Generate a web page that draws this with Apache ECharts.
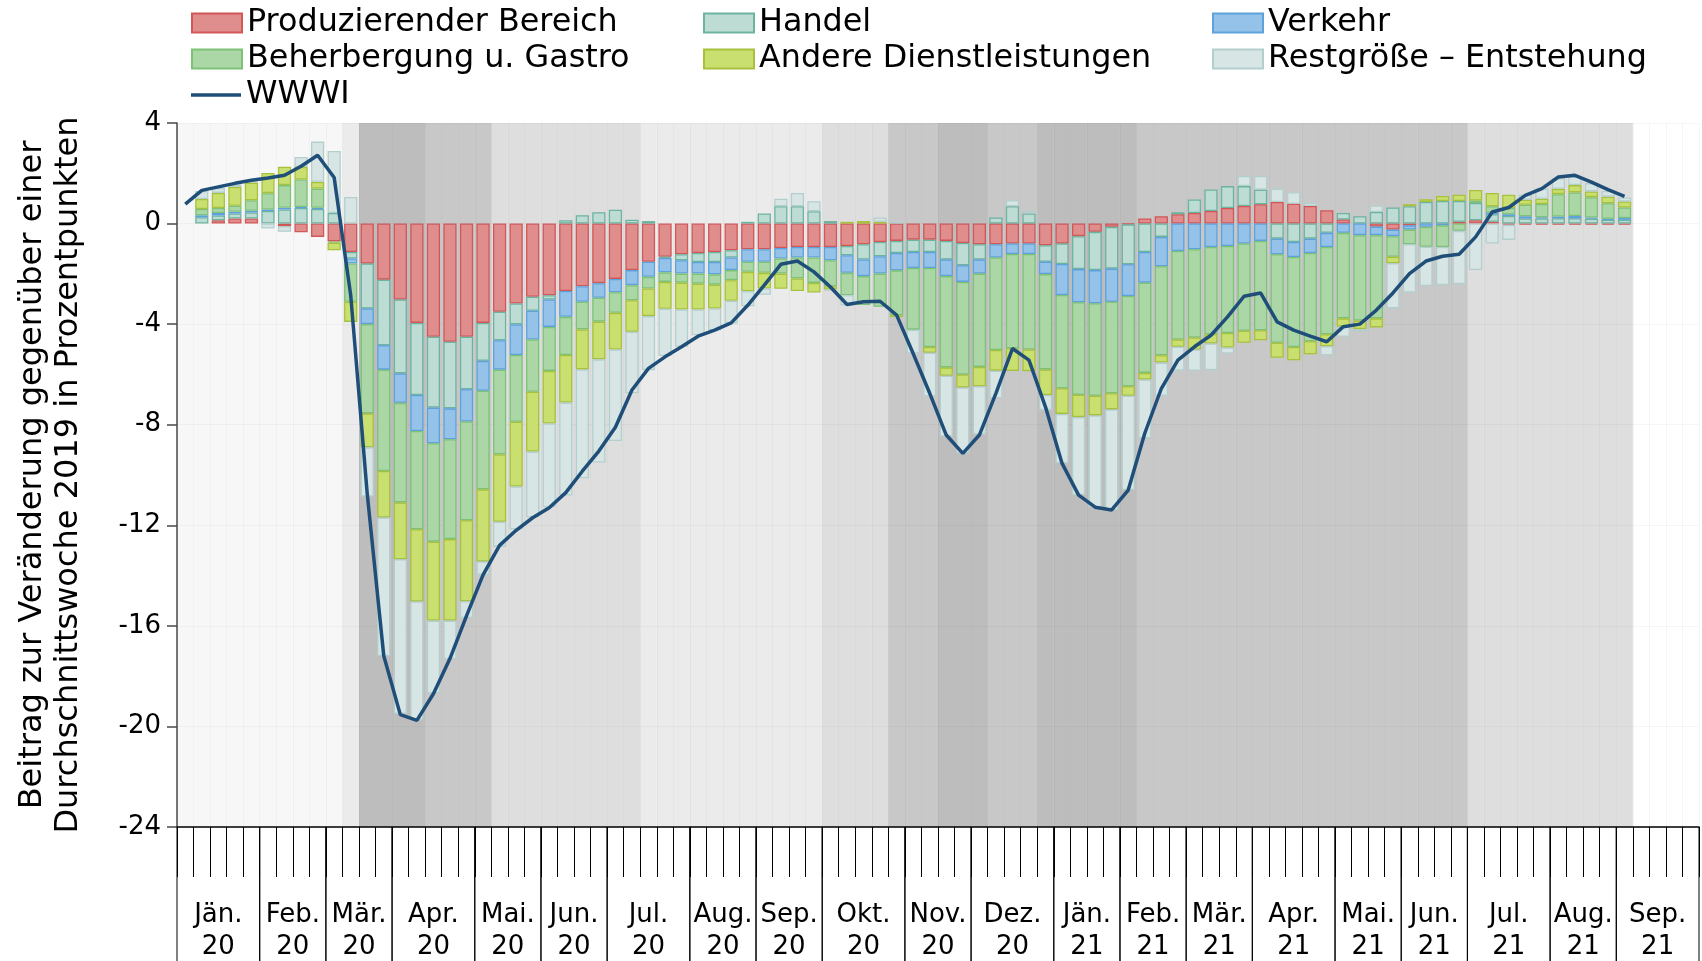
<!DOCTYPE html>
<html><head><meta charset="utf-8">
<script src="https://cdn.jsdelivr.net/npm/echarts@6/dist/echarts.min.js"></script>
<style>html,body{margin:0;padding:0;background:#fff}#c{width:1702px;height:961px}</style>
</head><body><div id="c"></div>
<script>
// ---------- DATA ----------
const monthNames = ['Jän.','Feb.','Mär.','Apr.','Mai.','Jun.','Jul.','Aug.','Sep.','Okt.','Nov.','Dez.','Jän.','Feb.','Mär.','Apr.','Mai.','Jun.','Jul.','Aug.','Sep.'];
const monthYears = ['20','20','20','20','20','20','20','20','20','20','20','20','21','21','21','21','21','21','21','21','21'];
const monthWeeks = [5,4,4,5,4,4,5,4,4,5,4,5,4,4,4,5,4,4,5,4,5];

const produzierend = [
 null,0,0.13,0.2,0.2,0,-0.1,-0.35,-0.53,-0.71,
 -1.13,-1.59,-2.23,-3.02,-3.95,-4.5,-4.7,-4.5,-3.95,-3.51,
 -3.18,-2.91,-2.85,-2.68,-2.49,-2.37,-2.2,-1.85,-1.52,-1.32,
 -1.22,-1.17,-1.13,-1.06,-1.02,-1.02,-0.97,-0.93,-0.93,-0.93,
 -0.89,-0.82,-0.73,-0.69,-0.64,-0.64,-0.69,-0.77,-0.82,-0.82,
 -0.79,-0.79,-0.86,-0.79,-0.5,-0.33,-0.13,-0.03,0.2,0.29,
 0.37,0.42,0.5,0.62,0.7,0.77,0.86,0.79,0.7,0.53,
 0.16,0,-0.12,-0.24,-0.07,0,0,0.07,0.13,0.07,
 -0.05,-0.05,-0.05,-0.05,-0.05,-0.05,-0.05,-0.05];
const handel = [
 null,0.25,0.19,0.2,0.24,0.5,0.56,0.62,0.58,0.42,
 -0.26,-1.79,-2.61,-2.94,-2.87,-2.82,-2.65,-2.09,-1.51,-1.13,
 -0.83,-0.56,-0.17,0.13,0.33,0.45,0.55,0.15,0.1,-0.05,
 -0.24,-0.36,-0.4,-0.29,0.07,0.4,0.69,0.69,0.49,0.1,
 -0.37,-0.61,-0.57,-0.48,-0.49,-0.49,-0.74,-0.89,-0.61,0.24,
 0.69,0.4,-0.66,-0.82,-1.31,-1.52,-1.66,-1.59,-1.13,-0.53,
 0.08,0.54,0.86,0.87,0.79,0.58,-0.6,-0.73,-0.6,-0.37,
 0.26,0.29,0.46,0.64,0.69,0.86,0.9,0.83,0.69,0.3,
 0.3,0.2,0.2,0.21,0.21,0.19,0.15,0.15];
const verkehr = [
 null,0.08,0.1,0.07,0.07,0.06,0.07,0.04,0.05,0,
 -0.2,-0.62,-0.97,-1.17,-1.43,-1.42,-1.23,-1.28,-1.19,-1.17,
 -1.22,-1.14,-1.09,-1.03,-0.62,-0.58,-0.53,-0.6,-0.6,-0.57,
 -0.53,-0.46,-0.49,-0.5,-0.5,-0.5,-0.42,-0.42,-0.42,-0.53,
 -0.7,-0.66,-0.69,-0.69,-0.64,-0.64,-0.66,-0.66,-0.56,-0.53,
 -0.42,-0.42,-0.49,-1.23,-1.32,-1.32,-1.32,-1.26,-1.22,-1.17,
 -1.09,-1.02,-0.93,-0.89,-0.79,-0.69,-0.62,-0.6,-0.57,-0.56,
 -0.37,-0.46,-0.34,-0.26,-0.17,-0.13,-0.07,0,0,0.07,
 0.07,0.09,0.05,0.07,0.09,0.05,0.04,0.07];
const beherbergung = [
 null,0.25,0.2,0.24,0.42,0.65,0.9,1.09,0.76,-0.05,
 -1.52,-3.55,-4.03,-3.96,-3.91,-3.91,-3.97,-3.93,-3.92,-3.37,
 -2.65,-2.08,-1.75,-1.52,-1.1,-0.95,-0.82,-0.6,-0.46,-0.38,
 -0.36,-0.4,-0.41,-0.4,-0.4,-0.44,-0.6,-0.83,-1.01,-1.03,
 -0.89,-1.15,-1.32,-1.79,-2.45,-3.14,-3.63,-3.68,-3.71,-3.68,
 -3.75,-3.8,-3.79,-3.71,-3.68,-3.68,-3.64,-3.59,-3.59,-3.54,
 -3.52,-3.51,-3.47,-3.46,-3.47,-3.55,-3.52,-3.58,-3.51,-3.47,
 -3.4,-3.4,-3.31,-0.82,-0.58,-0.79,-0.86,-0.29,0.1,0.25,
 0.25,0.46,0.53,0.89,0.94,0.81,0.62,0.42];
const andere = [
 null,0.4,0.6,0.75,0.7,0.8,0.73,0.5,0.27,-0.3,
 -0.8,-1.35,-1.85,-2.26,-2.87,-3.14,-3.24,-3.22,-2.87,-2.68,
 -2.58,-2.38,-2.09,-1.89,-1.59,-1.5,-1.46,-1.25,-1.1,-1.07,
 -1.07,-1.03,-0.95,-0.82,-0.77,-0.62,-0.6,-0.5,-0.38,-0.13,
 0.07,0.1,0.07,-0.07,0,-0.23,-0.33,-0.52,-0.77,-0.82,
 -0.9,-0.86,-1.02,-1.02,-0.89,-0.78,-0.64,-0.38,-0.26,-0.29,
 -0.29,-0.48,-0.37,-0.58,-0.48,-0.4,-0.6,-0.53,-0.52,-0.48,
 -0.33,-0.34,-0.36,-0.26,0.08,0.11,0.2,0.25,0.42,0.53,
 0.53,0.2,0.21,0.21,0.29,0.23,0.26,0.24];
const restgroesse = [
 null,0.32,0.2,0.1,0.05,-0.2,-0.23,0.4,1.6,2.47,
 1.06,-1.96,-5.51,-6.15,-4.71,-2.89,-1.54,-0.67,-0.53,-1.0,
 -1.7,-2.61,-3.33,-3.7,-4.33,-4.1,-3.64,-2.45,-2.15,-1.88,
 -1.48,-1.02,-0.86,-0.9,-0.6,-0.25,0.3,0.53,0.4,-0.05,
 -0.4,0,0.17,0.07,-0.95,-1.74,-2.42,-2.62,-1.92,-1.1,
 0.24,0.1,-0.6,-1.96,-3.1,-3.65,-4.0,-3.75,-2.34,-1.32,
 -0.95,-0.85,-1.06,-0.24,0.4,0.54,0.53,0.46,0.13,-0.36,
 -0.4,-0.1,0.26,-1.79,-1.92,-1.56,-1.52,-2.12,-1.85,-0.79,
 -0.6,0.2,0.4,0.42,0.33,0.33,0.23,0.16];
const wwwi = [
 0.77,1.32,1.46,1.6,1.72,1.81,1.92,2.28,2.72,1.83,
 -2.85,-10.75,-17.2,-19.53,-19.76,-18.7,-17.3,-15.6,-13.97,-12.8,
 -12.2,-11.7,-11.3,-10.7,-9.85,-9.05,-8.1,-6.62,-5.76,-5.3,
 -4.9,-4.48,-4.24,-3.95,-3.25,-2.45,-1.62,-1.49,-1.92,-2.52,
 -3.22,-3.11,-3.09,-3.64,-5.17,-6.75,-8.41,-9.14,-8.41,-6.75,
 -4.97,-5.43,-7.3,-9.54,-10.8,-11.28,-11.39,-10.6,-8.34,-6.56,
 -5.43,-4.9,-4.44,-3.71,-2.89,-2.76,-3.91,-4.24,-4.48,-4.7,
 -4.1,-4.0,-3.44,-2.76,-1.99,-1.49,-1.3,-1.22,-0.53,0.46,
 0.64,1.12,1.39,1.85,1.92,1.65,1.35,1.08];
// lockdown stage per week (0 = none ... 5 = strongest)
const stage = [
 1,1,1,1,1,1,1,1,1,1, 2,5,5,5,5,4,4,4,4,3,
 3,3,3,3,3,3,3,3,2,2, 2,2,2,2,2,2,2,2,2,3,
 3,3,3,4,4,4,5,5,5,4, 4,4,5,5,5,5,5,5,4,4,
 4,4,4,4,4,4,4,4,4,4, 4,4,4,4,4,4,4,4,3,3,
 3,3,3,3,3,3,3,3,0,0, 0,0];
const yTicks = {min:-24, max:4, step:4};

// ---------- BUILD ----------
const FONT = '"DejaVu Sans", sans-serif';
const cats = [];
const monthStarts = [];
monthWeeks.forEach((n, m) => {
  monthStarts.push(cats.length);
  for (let k = 1; k <= n; k++) cats.push(monthNames[m] + ' ' + monthYears[m] + ' W' + k);
});
const stageColors = ['rgba(0,0,0,0)','rgba(0,0,0,0.032)','rgba(0,0,0,0.08)','rgba(0,0,0,0.13)','rgba(0,0,0,0.215)','rgba(0,0,0,0.26)'];

const chart = echarts.init(document.getElementById('c'), null, {renderer:'canvas', width:1702, height:961});

function barSeries(name, data, fill, border) {
  return {
    type:'bar', name, stack:'total', data: data.map(v => (v === 0 ? null : v)),
    barWidth:'80%', xAxisIndex:0, yAxisIndex:0, z:3,
    itemStyle:{color:fill, borderColor:border, borderWidth:1.3},
    emphasis:{disabled:true}
  };
}
function legendAt(name, left, cy, iconH) {
  return {data:[{name, icon:'rect'}], left, top: cy - 18, padding:0, itemWidth:50, itemHeight:iconH || 19, selectedMode:false,
    textStyle:{fontSize:31.8, lineHeight:36, color:'#000', fontFamily:FONT}};
}

const option = {
  animation:false,
  textStyle:{fontFamily:FONT},
  grid:{left:177, top:123, right:3, bottom:134, containLabel:false, outerBoundsMode:'none'},
  legend:[
    legendAt('Produzierender Bereich', 191, 23),
    legendAt('Handel', 703, 23),
    legendAt('Verkehr', 1212, 23),
    legendAt('Beherbergung u. Gastro', 191, 59),
    legendAt('Andere Dienstleistungen', 703, 59),
    legendAt('Restgröße – Entstehung', 1212, 59),
    legendAt('WWWI', 191, 95, 3.5)
  ],
  xAxis:[
    {type:'category', data:cats, boundaryGap:true, position:'bottom',
     axisLine:{show:true, onZero:false, lineStyle:{color:'#000', width:1.5}},
     axisTick:{show:true, interval:0, length:50, lineStyle:{color:'#000', width:1}},
     axisLabel:{show:false},
     splitLine:{show:true, interval:0, lineStyle:{color:'rgba(0,0,0,0.035)', width:1}}},
    {type:'category', data:cats, boundaryGap:true, show:false}
  ],
  yAxis:[
    {type:'value', min:yTicks.min, max:yTicks.max, interval:yTicks.step,
     axisLine:{show:true, lineStyle:{color:'#4a4a4a', width:1.5}},
     axisTick:{show:true, length:10, lineStyle:{color:'#4a4a4a', width:1.5}},
     axisLabel:{fontSize:26, color:'#000', margin:16, fontFamily:FONT},
     splitLine:{show:true, lineStyle:{color:'rgba(0,0,0,0.035)', width:1}},
     name:'Beitrag zur Veränderung gegenüber einer\nDurchschnittswoche 2019 in Prozentpunkten',
     nameLocation:'middle', nameGap:90,
     nameTextStyle:{fontSize:32, lineHeight:36, color:'#000', fontFamily:FONT}},
    {type:'value', min:0, max:1, show:false}
  ],
  series:[
    {type:'bar', name:'bg', xAxisIndex:1, yAxisIndex:1, barWidth:'100%', barCategoryGap:'0%', silent:true, z:1,
     data: stage.map(s => ({value:1, itemStyle:{color:stageColors[s]}}))},
    barSeries('Produzierender Bereich', produzierend, '#df8d8d', '#d25757'),
    barSeries('Handel', handel, '#bcdcd4', '#6cb3a0'),
    barSeries('Verkehr', verkehr, '#95c2e8', '#5ea2dc'),
    barSeries('Beherbergung u. Gastro', beherbergung, '#abd7a7', '#7dc277'),
    barSeries('Andere Dienstleistungen', andere, '#c9e070', '#a7c13c'),
    barSeries('Restgröße – Entstehung', restgroesse, '#d7e5e4', '#b3cfcd'),
    {type:'line', name:'WWWI', data:wwwi, symbol:'none', z:5, silent:true,
     lineStyle:{color:'#1f4e79', width:3.5}, itemStyle:{color:'#1f4e79'}},
    {type:'custom', name:'months', xAxisIndex:0, yAxisIndex:0, clip:false, silent:true, z:6,
     data: monthStarts.map((s, i) => [s, monthWeeks[i], i]),
     renderItem: function (params, api) {
       const s = api.value(0), n = api.value(1), i = api.value(2);
       const bw = api.size([1, 0])[0];
       const p = api.coord([s, yTicks.min]);
       const x0 = p[0] - bw / 2, x1 = x0 + n * bw, y0 = p[1];
       return {type:'group', children:[
         {type:'line', shape:{x1:x0, y1:y0, x2:x0, y2:y0 + 140}, style:{stroke:'#000', lineWidth:1}},
         {type:'line', shape:{x1:x1, y1:y0, x2:x1, y2:y0 + 140}, style:{stroke:'#000', lineWidth:1}},
         {type:'text', x:(x0 + x1) / 2, y:y0 + 104,
          style:{text: monthNames[i] + '\n' + monthYears[i], align:'center', verticalAlign:'middle',
                 fontSize:26, lineHeight:32, fontFamily:FONT, fill:'#000'}}
       ]};
     }}
  ]
};
chart.setOption(option);
</script></body></html>
